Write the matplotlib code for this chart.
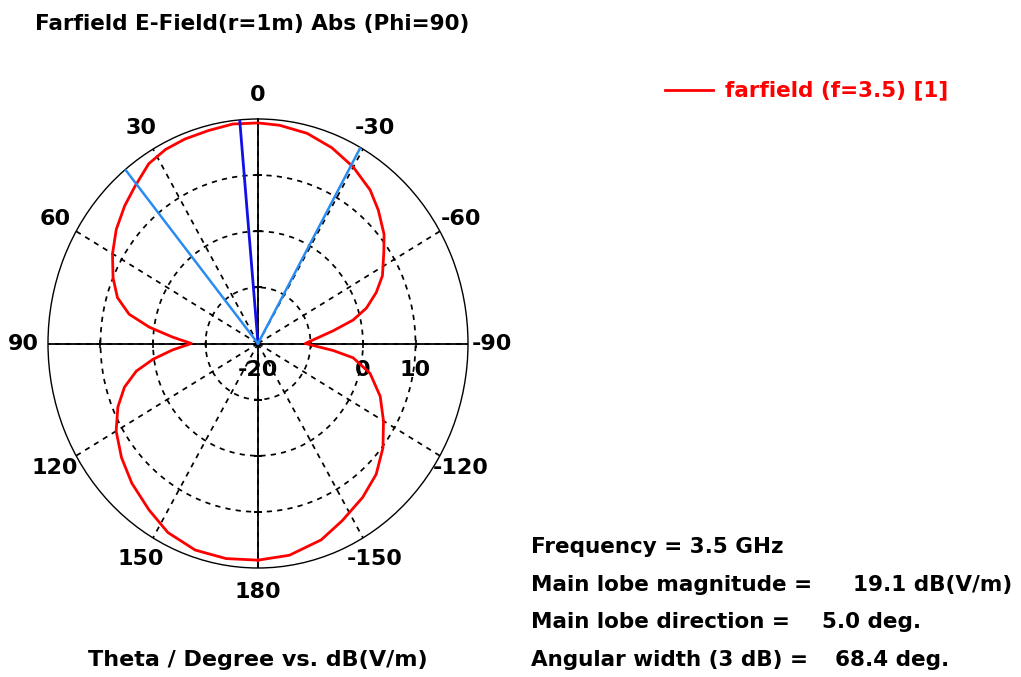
import numpy as np
import matplotlib.pyplot as plt

# farfield cut, Phi=90 (theta in degrees, value in dB(V/m))
theta_deg = [-180, -171, -161, -153, -144, -136, -128, -120, -112, -104,
             -98, -95, -90, -81, -77, -73, -68, -63, -56, -51, -44, -38,
             -30, -22, -14, -6, 0, 7, 14, 21, 27, 33, 40, 46, 53, 60, 67,
             73, 78, 82, 86, 90, 94, 98, 102, 107, 113, 120, 128, 136, 145,
             153, 162, 171, 180]
gain_db = [18.6, 18.2, 17.0, 15.4, 13.9, 12.4, 10.2, 7.6, 5.1, 2.0,
           -1.7, -5.6, -11.0, -5.5, -1.4, 1.6, 4.3, 6.6, 8.9, 10.9, 13.0, 14.7,
           16.3, 17.6, 18.6, 19.1, 19.3, 19.4, 19.1, 19.0, 18.8, 18.2, 16.5,
           15.3, 13.8, 12.0, 10.0, 8.0, 5.1, 0.9, -3.7, -7.3, -3.7, 0.2, 3.7,
           6.6, 9.0, 11.2, 13.0, 14.6, 16.2, 17.8, 18.7, 18.8, 18.6]

main_lobe_dir = 5.0
beam_edges = [39.2, -29.2]   # 5.0 +/- 68.4/2

r_min, r_max = -20, 20
ring_values = [-10, 0, 10]
ring_label_values = [-20, 0, 10]
angle_ticks = list(range(0, 360, 30))
angle_labels = ['0', '30', '60', '90', '120', '150', '180',
                '-150', '-120', '-90', '-60', '-30']

info_labels = ['Frequency = 3.5 GHz', 'Main lobe magnitude =',
               'Main lobe direction =', 'Angular width (3 dB) =']
info_values = ['', '19.1 dB(V/m)', '5.0 deg.', '68.4 deg.']
info_value_x = [0, 853, 822, 835]

FONT = 'DejaVu Sans'
W, H = 1021, 677

fig = plt.figure(figsize=(W / 100, H / 100), dpi=100)
ax = fig.add_axes([48 / W, (H - 568) / H, 420 / W, 449 / H], projection='polar')
ax.set_aspect('auto')
ax.set_theta_zero_location('N')
ax.set_theta_direction(1)
ax.set_ylim(r_min, r_max)

ax.set_rgrids(ring_values, labels=[''] * len(ring_values))
ax.set_thetagrids(angle_ticks, labels=angle_labels)
ax.grid(True, color='k', ls=(0, (3, 3)), lw=1.25)
ax.spines['polar'].set_linewidth(1.0)
ax.tick_params(axis='x', pad=7, labelsize=16)
for lbl in ax.get_xticklabels():
    lbl.set_fontweight('bold')
    lbl.set_family(FONT)

# solid axis cross (on top of the dashed grid)
for a in [0, 90, 180, 270]:
    ax.plot(np.deg2rad([a, a]), [r_min, r_max], color='k', lw=1.3, zorder=3)
for a, m in [(90, '|'), (270, '|'), (0, '_'), (180, '_')]:
    ax.plot(np.deg2rad([a] * len(ring_values)), ring_values, ls='none',
            marker=m, ms=6, mew=1.2, color='k', zorder=3)

# pattern
ax.plot(np.deg2rad(theta_deg), gain_db, color='#ff0000', lw=2.0, zorder=5)

# main lobe + 3 dB beam edges
ax.plot(np.deg2rad([main_lobe_dir] * 2), [r_min, r_max], color='#1010e8',
        lw=2.0, zorder=6)
for b in beam_edges:
    ax.plot(np.deg2rad([b] * 2), [r_min, r_max], color='#2a8cf0', lw=1.8,
            zorder=6)

for v in ring_label_values:
    ax.annotate(str(v), xy=(np.deg2rad(270), v), xytext=(0, -19),
                textcoords='offset points', ha='center', va='center',
                fontsize=16, fontweight='bold', family=FONT)


def fx(x):
    return x / W


def fy(y):
    return 1 - y / H


fig.text(fx(35), fy(24), 'Farfield E-Field(r=1m) Abs (Phi=90)', ha='left',
         va='center', fontsize=15.5, fontweight='bold', family=FONT)
fig.text(fx(258), fy(660), 'Theta / Degree vs. dB(V/m)', ha='center',
         va='center', fontsize=16, fontweight='bold', family=FONT)

# legend
fig.add_artist(plt.Line2D([fx(665), fx(713)], [fy(90), fy(90)],
                          color='#ff0000', lw=2.0))
fig.text(fx(725), fy(90), 'farfield (f=3.5) [1]', ha='left', va='center',
         fontsize=15.5, fontweight='bold', color='#ff0000', family=FONT)

for i, (lab, val) in enumerate(zip(info_labels, info_values)):
    y = 547 + i * 37.7
    fig.text(fx(531), fy(y), lab, ha='left', va='center', fontsize=15.5,
             fontweight='bold', family=FONT)
    if val:
        fig.text(fx(info_value_x[i]), fy(y), val, ha='left', va='center',
                 fontsize=15.5, fontweight='bold', family=FONT)

fig.savefig('out.png', dpi=100)
